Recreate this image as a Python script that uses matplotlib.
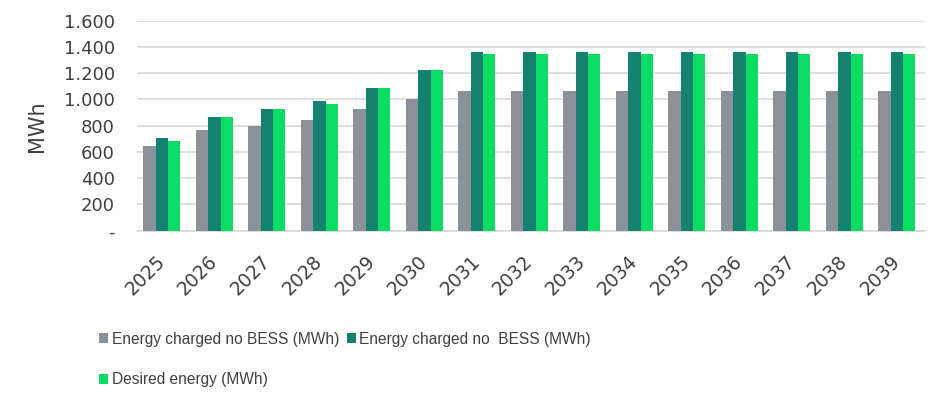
import matplotlib
matplotlib.use('Agg')
import matplotlib.pyplot as plt
import numpy as np
from matplotlib.ticker import FuncFormatter, MultipleLocator

# ----------------------------------------------------------------------
# Data
years = ['2025', '2026', '2027', '2028', '2029', '2030', '2031', '2032',
         '2033', '2034', '2035', '2036', '2037', '2038', '2039']
charged_grey = [645, 765, 800, 845, 925, 1005, 1065, 1065, 1065, 1065,
                1065, 1065, 1065, 1065, 1065]
charged_dark = [705, 865, 925, 985, 1085, 1225, 1365, 1365, 1365, 1365,
                1365, 1365, 1365, 1365, 1365]
desired = [685, 865, 925, 965, 1085, 1225, 1345, 1345, 1345, 1345,
           1345, 1345, 1345, 1345, 1345]
series_names = ['Energy charged no BESS (MWh)', 'Energy charged no  BESS (MWh)',
                'Desired energy (MWh)']
# ----------------------------------------------------------------------

plt.rcParams['font.family'] = ['DejaVu Sans']
txt_col = '#404040'

fig = plt.figure(figsize=(9.35, 3.95), dpi=100)
ax = fig.add_axes([0.1465, 0.416, 0.843, 0.5316])

x = np.arange(len(years))
w = 0.235
colors = ['#8b9198', '#158270', '#0cdc64']
bars = []
for i, (vals, col, name) in enumerate(zip([charged_grey, charged_dark, desired],
                                          colors, series_names)):
    bars.append(ax.bar(x + (i - 1) * w, vals, width=w, color=col,
                       label=name, zorder=3))

ax.set_xlim(-0.476, len(years) - 0.46)
ax.set_ylim(0, 1600)
ax.yaxis.set_major_locator(MultipleLocator(200))
ax.yaxis.set_major_formatter(FuncFormatter(
    lambda v, p: '-' if v == 0 else '{:,.0f}'.format(v).replace(',', '.')))
ax.grid(axis='y', color='#d9d9d9', linewidth=1.2, zorder=0)
for s in ['top', 'right', 'left']:
    ax.spines[s].set_visible(False)
ax.spines['bottom'].set_color('#d9d9d9')
ax.spines['bottom'].set_linewidth(1.2)
ax.tick_params(axis='both', length=0, labelsize=13, colors=txt_col)
ax.tick_params(axis='y', pad=16)
ax.tick_params(axis='x', pad=20)
ax.set_xticks(x)
ax.set_xticklabels(years, rotation=45, ha='right', va='center',
                   rotation_mode='anchor', fontsize=13.5)
ax.set_ylabel('MWh', fontsize=15, color=txt_col, labelpad=12)

# Legend below the plot, filled row by row
order = [0, 2, 1]
fig.legend([bars[k] for k in order], [series_names[k] for k in order],
           loc='upper left', bbox_to_anchor=(0.106, 0.16), ncol=2,
           frameon=False, handlelength=0.6, handleheight=0.6,
           handletextpad=0.2, columnspacing=0.5, labelspacing=1.65,
           labelcolor=txt_col, borderaxespad=0, borderpad=0,
           prop={'family': 'Liberation Sans', 'size': 11.2})

fig.savefig('out.png', dpi=100)
